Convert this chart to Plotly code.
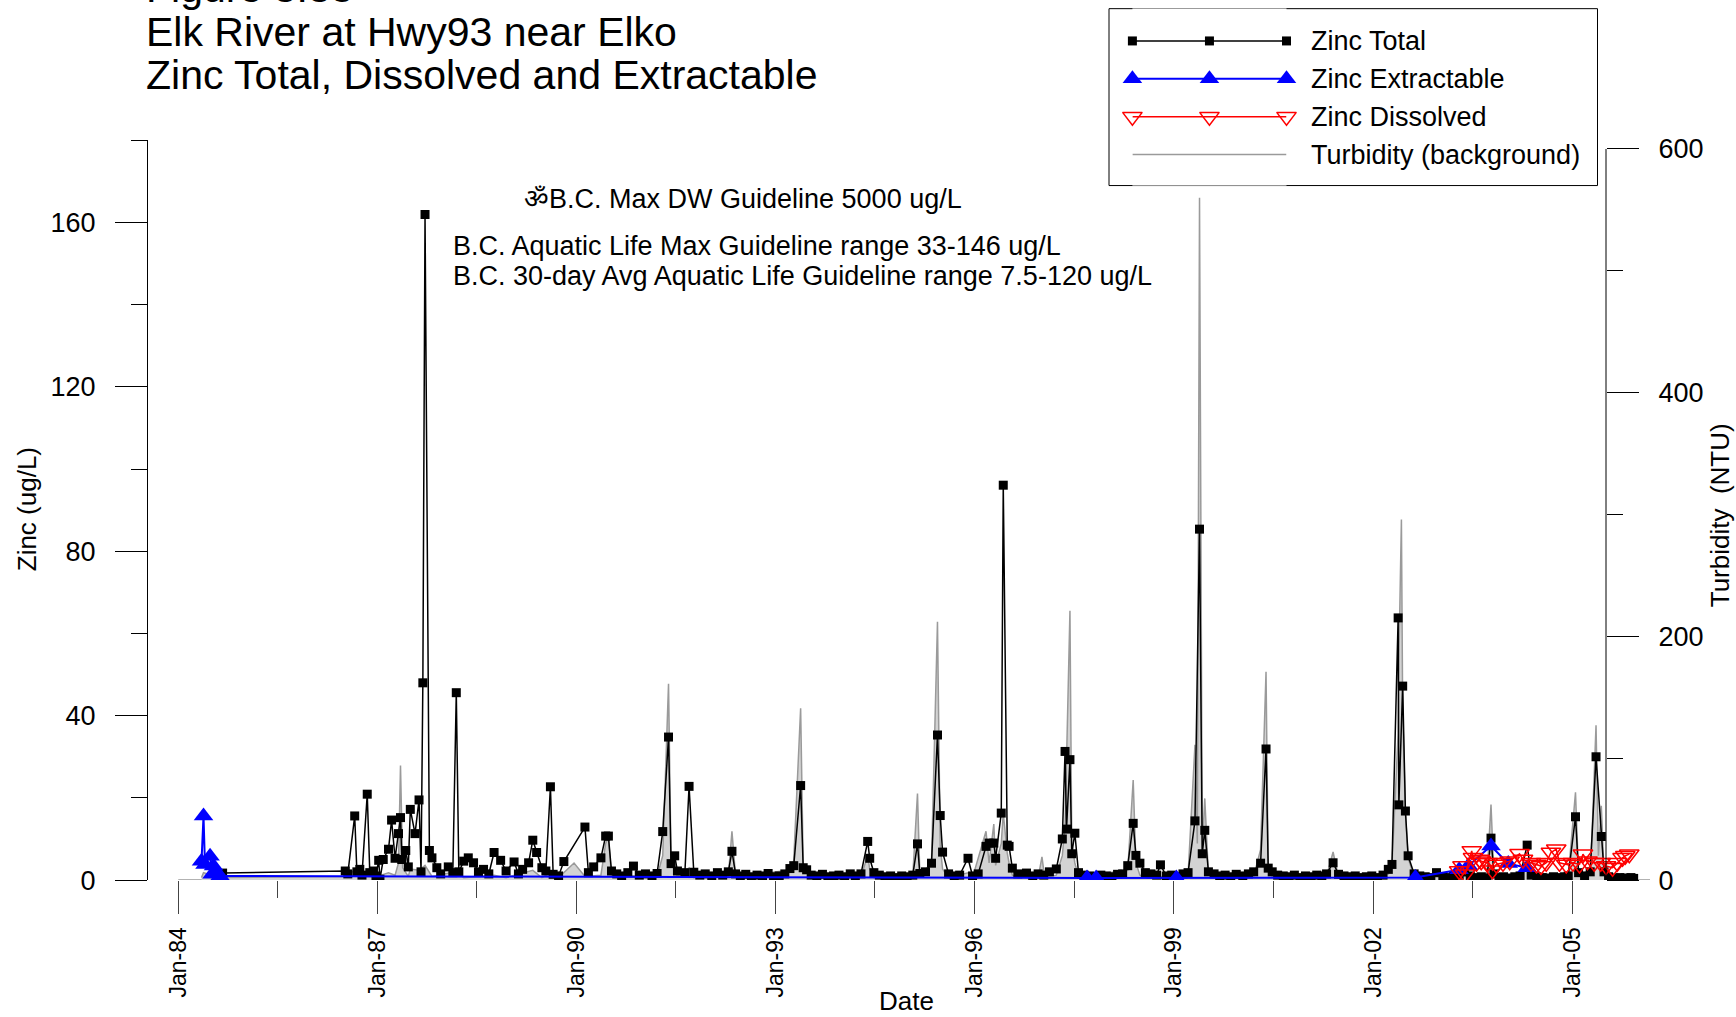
import plotly.graph_objects as go

W, H = 1736, 1017
FONT = "Arial, Liberation Sans, sans-serif"

# ---- values ----
# Zinc Total (ug/L), one sample per date
zn_total_dates = [
    "1984-09-01",
    "1986-07-08", "1986-07-22", "1986-08-29", "1986-09-10", "1986-09-26", "1986-10-08", "1986-11-06",
    "1986-11-20", "1986-12-10", "1986-12-24",
    "1987-01-08", "1987-01-15", "1987-02-02", "1987-03-03", "1987-03-20", "1987-04-08", "1987-04-27",
    "1987-05-08", "1987-05-15", "1987-06-06", "1987-06-20", "1987-07-01", "1987-07-27", "1987-08-18",
    "1987-08-29", "1987-09-08", "1987-09-20", "1987-10-14", "1987-10-28", "1987-11-24", "1987-12-15",
    "1988-01-26", "1988-02-20", "1988-03-10", "1988-03-24", "1988-04-20", "1988-05-15", "1988-06-13",
    "1988-07-10", "1988-08-07", "1988-09-05", "1988-10-04", "1988-11-09", "1988-12-09",
    "1989-01-22", "1989-02-15", "1989-03-10", "1989-04-12", "1989-05-05", "1989-05-26", "1989-06-24",
    "1989-07-16", "1989-08-10", "1989-08-25", "1989-09-24", "1989-10-23",
    "1990-02-16", "1990-03-07", "1990-04-05", "1990-05-15", "1990-06-10", "1990-06-25", "1990-07-12",
    "1990-08-10", "1990-09-06", "1990-10-10", "1990-11-10", "1990-12-12",
    "1991-01-15", "1991-02-20", "1991-03-20", "1991-04-20", "1991-05-22", "1991-06-05", "1991-06-25",
    "1991-07-10", "1991-08-20", "1991-09-12", "1991-10-08", "1991-11-10", "1991-12-10",
    "1992-01-15", "1992-02-15", "1992-03-15", "1992-04-15", "1992-05-05", "1992-05-25", "1992-06-20",
    "1992-07-20", "1992-08-20", "1992-09-20", "1992-10-20", "1992-11-20", "1992-12-20",
    "1993-01-20", "1993-02-20", "1993-03-20", "1993-04-10", "1993-05-18", "1993-06-01", "1993-06-20",
    "1993-07-15", "1993-08-15", "1993-09-15", "1993-10-15", "1993-11-15", "1993-12-15",
    "1994-01-15", "1994-02-15", "1994-03-15", "1994-04-15", "1994-05-22", "1994-06-02", "1994-06-25",
    "1994-07-25", "1994-08-25", "1994-09-25", "1994-10-25", "1994-11-25", "1994-12-25",
    "1995-01-25", "1995-02-20", "1995-03-05", "1995-04-05", "1995-05-08", "1995-06-10", "1995-06-25",
    "1995-07-08", "1995-08-10", "1995-09-10", "1995-10-10", "1995-11-25", "1995-12-20",
    "1996-01-20", "1996-03-03", "1996-03-20", "1996-04-15", "1996-04-25", "1996-05-26", "1996-06-06",
    "1996-06-28", "1996-07-08", "1996-07-26", "1996-08-25", "1996-10-12", "1996-11-15", "1996-12-15",
    "1997-01-15", "1997-02-15", "1997-03-25", "1997-04-27", "1997-05-12", "1997-05-20", "1997-06-08",
    "1997-06-18", "1997-07-05", "1997-07-25", "1997-08-25", "1997-09-25", "1997-10-25", "1997-11-25",
    "1997-12-25",
    "1998-01-25", "1998-02-25", "1998-03-25", "1998-04-22", "1998-05-22", "1998-06-06", "1998-06-28",
    "1998-07-28", "1998-08-28", "1998-09-28", "1998-10-19", "1998-11-20", "1998-12-20",
    "1999-01-20", "1999-02-20", "1999-03-20", "1999-04-27", "1999-05-22", "1999-06-06", "1999-06-20",
    "1999-07-10", "1999-08-10", "1999-09-10", "1999-10-10", "1999-11-10", "1999-12-10",
    "2000-01-15", "2000-02-15", "2000-03-15", "2000-04-22", "2000-05-22", "2000-06-03", "2000-06-25",
    "2000-07-25", "2000-08-25", "2000-09-25", "2000-10-25", "2000-11-25", "2000-12-25",
    "2001-01-25", "2001-02-25", "2001-03-25", "2001-04-20", "2001-05-26", "2001-06-25", "2001-07-25",
    "2001-08-25", "2001-09-25", "2001-10-25", "2001-11-25", "2001-12-25",
    "2002-01-25", "2002-02-25", "2002-03-26", "2002-04-15", "2002-05-19", "2002-05-23", "2002-06-13",
    "2002-06-28", "2002-07-13", "2002-08-15", "2002-09-15", "2002-10-15", "2002-11-15", "2002-12-16",
    "2003-01-20", "2003-02-20", "2003-03-20", "2003-04-20", "2003-05-20", "2003-06-20", "2003-07-20",
    "2003-08-20", "2003-09-20", "2003-10-12", "2003-10-28", "2003-11-25", "2003-12-20",
    "2004-01-20", "2004-02-20", "2004-03-20", "2004-04-28", "2004-05-20", "2004-06-20", "2004-07-20",
    "2004-08-20", "2004-09-20", "2004-10-20", "2004-11-20", "2004-12-10",
    "2005-01-19", "2005-02-05", "2005-03-10", "2005-04-10", "2005-05-12", "2005-06-10", "2005-06-25",
    "2005-07-20", "2005-08-20", "2005-09-20", "2005-10-20", "2005-11-20", "2005-12-05",
]
zn_total = [
    1.7,
    2.2, 1.5, 15.6, 2.0, 2.6, 1.2, 20.9,
    1.8, 2.2, 1.0,
    4.8, 0.2, 5.0, 7.5, 14.6, 5.3, 11.3,
    15.2, 5.0, 7.2, 3.2, 17.2, 11.3, 19.5,
    2.0, 48.0, 162.0, 7.2, 5.4, 3.0, 1.5,
    3.2, 1.8, 45.6, 2.0, 4.6, 5.4, 4.2,
    2.0, 2.6, 1.5, 6.7, 4.8, 2.2,
    4.4, 1.5, 2.6, 4.2, 9.7, 6.7, 3.0,
    2.2, 22.7, 1.4, 1.0, 4.5,
    12.9, 1.8, 3.2, 5.4, 10.7, 10.7, 2.2,
    1.5, 1.0, 1.8, 3.4, 1.2,
    1.5, 1.0, 1.6, 11.8, 34.8, 4.0, 5.9,
    2.2, 1.8, 22.8, 1.9, 1.2, 1.5,
    1.0, 1.8, 1.2, 2.0, 7.0, 1.5, 1.0,
    1.4, 0.8, 1.2, 1.0, 1.6, 0.8,
    1.0, 1.5, 2.8, 3.5, 23.0, 3.0, 2.5,
    1.2, 1.0, 1.4, 0.8, 1.0, 1.2,
    0.8, 1.5, 1.0, 1.5, 9.4, 5.3, 1.8,
    1.2, 0.8, 1.0, 0.6, 1.0, 0.8,
    1.2, 8.8, 1.6, 2.0, 4.1, 35.3, 15.7,
    6.8, 1.5, 1.0, 1.2, 5.3, 1.0,
    1.5, 8.2, 9.0, 9.0, 5.3, 16.3, 96.1,
    8.5, 8.2, 2.9, 1.5, 1.7, 1.0, 1.5,
    1.2, 2.0, 2.7, 10.0, 31.3, 12.4, 29.3,
    6.4, 11.4, 1.8, 1.2, 1.0, 0.8, 1.2,
    1.0,
    0.8, 1.4, 1.5, 3.5, 13.8, 6.0, 4.1,
    1.8, 1.5, 1.2, 3.7, 1.0, 1.2,
    0.8, 1.5, 1.8, 14.4, 85.4, 6.4, 12.1,
    2.0, 1.5, 1.0, 1.2, 0.8, 1.4,
    1.0, 1.5, 2.0, 4.1, 31.9, 2.9, 2.0,
    1.2, 1.0, 0.8, 1.2, 0.6, 1.0,
    0.8, 1.2, 1.0, 1.5, 4.2, 1.4, 1.0,
    0.8, 1.0, 0.6, 0.8, 1.0,
    0.6, 1.2, 2.6, 3.8, 63.8, 18.3, 47.2,
    16.8, 5.9, 1.5, 1.0, 0.8, 0.6, 1.8,
    0.8, 0.6, 1.0, 1.2, 2.0, 1.0, 0.6,
    0.8, 0.5, 10.2, 1.5, 0.6, 0.8,
    0.5, 0.8, 1.0, 8.5, 1.2, 0.8, 0.6,
    0.5, 0.8, 0.6, 0.8, 1.0,
    15.4, 1.8, 1.0, 2.0, 30.0, 10.6, 2.0,
    0.8, 0.5, 0.6, 0.5, 0.6, 0.4,
]

# Zinc Extractable (ug/L)
zn_extr_dates = [
    "1984-05-08", "1984-05-19", "1984-05-27", "1984-06-24", "1984-07-05", "1984-07-13", "1984-07-31",
    "1984-08-18", "1997-09-10", "1997-10-30", "1999-01-15", "2002-08-22", "2003-04-20", "2003-06-10",
    "2003-10-12", "2004-01-15", "2004-04-28",
]
zn_extr = [4.6, 15.6, 3.8, 5.8, 1.4, 3.4, 1.8, 1.0, 0.5, 0.5, 0.5, 0.6, 2.5, 3.5, 8.3, 4.0, 3.0]

# Zinc Dissolved (ug/L)
zn_diss_dates = [
    "2003-04-20", "2003-05-08", "2003-05-23", "2003-06-28", "2003-07-05", "2003-07-24", "2003-08-11",
    "2003-08-19", "2003-09-24", "2003-10-20", "2003-11-10", "2003-12-17", "2004-01-23", "2004-03-17",
    "2004-04-05", "2004-05-19", "2004-06-18", "2004-07-13", "2004-08-11", "2004-09-06", "2004-10-05",
    "2004-10-23", "2004-11-29", "2005-01-05", "2005-02-10", "2005-03-01", "2005-03-26", "2005-05-02",
    "2005-06-07", "2005-07-06", "2005-08-11", "2005-09-06", "2005-10-05", "2005-10-20", "2005-11-11",
]
zn_diss = [
    2.2, 3.4, 1.4, 7.1, 5.4, 4.2, 5.0,
    4.6, 4.2, 2.4, 3.8, 4.2, 4.6, 6.4,
    5.0, 4.2, 3.8, 3.4, 4.2, 6.7, 7.5,
    4.2, 3.8, 4.2, 3.8, 6.3, 4.6, 4.2,
    4.2, 3.4, 3.0, 4.2, 5.4, 5.9, 6.3,
]

# Turbidity (NTU), right axis
turb_dates = [
    "1984-05-08", "1984-05-19", "1984-08-18",
    "1986-07-08", "1986-08-29", "1986-09-26", "1986-11-06", "1986-12-10",
    "1987-03-03", "1987-04-08", "1987-04-27", "1987-05-08", "1987-05-20", "1987-06-20", "1987-07-01",
    "1987-08-18", "1987-09-20", "1987-10-28",
    "1988-03-10", "1988-04-20", "1988-10-04", "1988-12-09",
    "1989-05-05", "1989-06-24", "1989-08-10", "1989-09-24", "1989-12-18", "1990-01-15", "1990-02-16",
    "1990-05-15", "1990-06-10", "1990-06-25", "1990-07-12",
    "1991-03-20", "1991-04-20", "1991-05-22", "1991-06-05", "1991-07-10", "1991-09-12", "1991-10-08",
    "1992-04-15", "1992-05-05", "1992-05-25",
    "1993-03-20", "1993-04-10", "1993-05-18", "1993-06-01", "1993-07-15",
    "1994-04-15", "1994-05-22", "1994-06-02", "1994-06-25",
    "1995-01-25", "1995-02-20", "1995-03-05", "1995-05-08", "1995-06-10", "1995-06-25", "1995-07-08",
    "1995-08-10", "1995-11-25", "1995-12-20",
    "1996-03-03", "1996-03-20", "1996-04-15", "1996-04-25", "1996-05-26", "1996-06-06", "1996-06-28",
    "1996-07-08", "1996-07-26", "1996-08-25", "1996-12-15", "1997-01-05", "1997-01-20",
    "1997-03-25", "1997-04-27", "1997-05-12", "1997-06-08", "1997-06-18", "1997-07-05", "1997-07-25",
    "1998-04-22", "1998-05-22", "1998-06-06", "1998-06-28", "1998-07-28",
    "1999-03-20", "1999-04-27", "1999-05-10", "1999-05-22", "1999-06-06", "1999-06-20", "1999-07-10",
    "2000-03-15", "2000-04-22", "2000-05-22", "2000-06-03", "2000-06-25",
    "2001-04-20", "2001-05-26", "2001-06-25",
    "2002-03-26", "2002-04-15", "2002-05-19", "2002-05-23", "2002-06-06", "2002-06-13", "2002-06-28",
    "2002-07-13", "2002-08-15",
    "2003-09-20", "2003-10-12", "2003-10-28",
    "2004-03-20", "2004-04-28", "2004-05-20",
    "2004-12-10", "2005-01-19", "2005-02-05", "2005-04-10", "2005-04-20", "2005-05-12", "2005-05-25",
    "2005-06-10", "2005-06-25", "2005-12-05",
]
turbidity = [
    2, 6, 2,
    3, 8, 2, 7, 2,
    6, 4, 14, 94, 10, 3, 9,
    8, 12, 3,
    7, 2, 4, 2,
    8, 2, 6, 2, 14, 9, 3,
    4, 30, 35, 4,
    3, 20, 161, 14, 3, 10, 2,
    3, 40, 3,
    8, 16, 141, 12, 2,
    3, 20, 9, 2,
    3, 71, 4, 14, 212, 28, 9,
    2, 6, 2,
    40, 14, 46, 12, 30, 55, 22,
    14, 4, 2, 2, 19, 2,
    4, 20, 45, 221, 30, 14, 3,
    8, 82, 14, 4, 2,
    4, 111, 30, 560, 25, 67, 4,
    3, 25, 171, 10, 3,
    3, 23, 2,
    5, 12, 120, 180, 296, 140, 55,
    18, 3,
    3, 62, 4,
    3, 10, 2,
    3, 72, 4, 8, 38, 127, 20,
    61, 5, 2,
]

title_lines = ["Figure 3.38", "Elk River at Hwy93 near Elko", "Zinc Total, Dissolved and Extractable"]
guideline_lines = [
    "\u0950B.C. Max DW Guideline 5000 ug/L",
    "B.C. Aquatic Life Max Guideline range 33-146 ug/L",
    "B.C. 30-day Avg Aquatic Life Guideline range 7.5-120 ug/L",
]
legend_names = ["Zinc Total", "Zinc Extractable", "Zinc Dissolved", "Turbidity (background)"]

X_START, X_END = "1983-07-13", "2006-03-05"


def px_x(px):
    return px / W


# rows are pixel rows measured on the reference; the captured page came out a
# little squashed vertically, so the rows are stretched slightly to land there
def px_y(px):
    return 1 - (1.0233 * px - 7.0) / H


fig = go.Figure()

# turbidity sits on the base y axis so it is drawn behind the zinc traces
fig.add_trace(go.Scatter(x=turb_dates, y=turbidity, xaxis="x", yaxis="y", mode="lines",
                         line=dict(color="#9a9a9a", width=1.5), fill="tozeroy", fillcolor="#d3d3d3",
                         hoverinfo="skip"))

total_style = dict(line=dict(color="black", width=1.5), marker=dict(symbol="square", size=9, color="black"))
extr_style = dict(line=dict(color="#0000ff", width=2), marker=dict(symbol="triangle-up", size=17, color="#0000ff"))
diss_style = dict(line=dict(color="#ff0000", width=1.5),
                  marker=dict(symbol="triangle-down-open", size=17, color="#ff0000",
                              line=dict(width=1.5, color="#ff0000")))

fig.add_trace(go.Scatter(x=zn_total_dates, y=zn_total, xaxis="x", yaxis="y2", mode="lines+markers", **total_style))
fig.add_trace(go.Scatter(x=zn_extr_dates, y=zn_extr, xaxis="x", yaxis="y2", mode="lines+markers", **extr_style))
fig.add_trace(go.Scatter(x=zn_diss_dates, y=zn_diss, xaxis="x", yaxis="y2", mode="lines+markers", **diss_style))

# hand-made legend: keys drawn on their own small axes
key_x = [0, 1, 2]
key_styles = [total_style, extr_style, diss_style, dict(line=dict(color="#9a9a9a", width=1.5))]
for row, style in enumerate(key_styles):
    mode = "lines+markers" if "marker" in style else "lines"
    fig.add_trace(go.Scatter(x=key_x, y=[row] * 3, xaxis="x3", yaxis="y3", mode=mode,
                             cliponaxis=False, hoverinfo="skip", **style))

annotations = []
for line, cy in zip(title_lines, [-11, 33, 76]):
    annotations.append(dict(text=line, x=px_x(144), y=px_y(cy), xref="paper", yref="paper",
                            xanchor="left", yanchor="middle", showarrow=False, font=dict(size=41)))

for line, (lx, ly) in zip(guideline_lines, [(522, 199), (451, 246), (451, 276.5)]):
    annotations.append(dict(text=line, x=px_x(lx), y=px_y(ly), xref="paper", yref="paper",
                            xanchor="left", yanchor="middle", showarrow=False, font=dict(size=27)))

for row, name in enumerate(legend_names):
    annotations.append(dict(text=name, x=px_x(1309), y=row, xref="paper", yref="y3",
                            xanchor="left", yanchor="middle", showarrow=False, font=dict(size=27)))

annotations += [
    dict(text="Zinc (ug/L)", x=px_x(27), y=px_y(509), xref="paper", yref="paper", textangle=-90,
         xanchor="center", yanchor="middle", showarrow=False, font=dict(size=26)),
    dict(text="Turbidity  (NTU)", x=px_x(1720), y=px_y(515), xref="paper", yref="paper", textangle=-90,
         xanchor="center", yanchor="middle", showarrow=False, font=dict(size=26)),
    dict(text="Date", x=px_x(906), y=px_y(1000), xref="paper", yref="paper",
         xanchor="center", yanchor="middle", showarrow=False, font=dict(size=26)),
]

shapes = [
    # bottom axis line starts at Jan-84
    dict(type="line", xref="x", yref="y", x0="1984-01-01", x1=X_END, y0=0, y1=0,
         line=dict(color="#555555", width=1), layer="below"),
    # right axis line only up to 600
    dict(type="line", xref="paper", yref="y", x0=px_x(1606), x1=px_x(1606), y0=0, y1=600,
         line=dict(color="black", width=1)),
    # legend frame
    dict(type="rect", xref="paper", yref="paper", x0=px_x(1109), x1=px_x(1597.5), y0=px_y(186), y1=px_y(9.5),
         line=dict(color="black", width=1), fillcolor="white", layer="below"),
]

fig.update_layout(
    width=W, height=H, autosize=False, margin=dict(l=0, r=0, t=0, b=0),
    paper_bgcolor="white", plot_bgcolor="white", showlegend=False,
    font=dict(family=FONT, color="black"),
    xaxis=dict(type="date", domain=[px_x(147), px_x(1650)], range=[X_START, X_END], anchor="y",
               showline=False, showgrid=False, zeroline=False,
               ticks="outside", ticklen=33, tickwidth=1, tickcolor="#444444",
               tick0="1984-01-01", dtick="M36", tickformat="%b-%y", tickangle=-90,
               tickfont=dict(size=23), ticklabelstandoff=4,
               minor=dict(ticks="outside", ticklen=17, tickcolor="#444444", dtick="M18",
                          tick0="1984-01-01", showgrid=False)),
    yaxis=dict(domain=[px_y(879), px_y(141)], range=[0, 607], side="right", anchor="free",
               position=px_x(1606), showline=False, showgrid=False, zeroline=False,
               ticks="outside", ticklen=32, tickcolor="black", tick0=0, dtick=200,
               tickfont=dict(size=27), ticklabelstandoff=14,
               minor=dict(ticks="outside", ticklen=16, dtick=100, tickcolor="black", showgrid=False)),
    yaxis2=dict(overlaying="y", side="left", anchor="free", position=px_x(147), range=[0, 180],
                showline=True, linecolor="black", linewidth=1, showgrid=False, zeroline=False,
                ticks="outside", ticklen=32, tickcolor="black", dtick=40,
                tickfont=dict(size=27), ticklabelstandoff=14,
                minor=dict(ticks="outside", ticklen=16, dtick=20, tickcolor="black", showgrid=False)),
    xaxis3=dict(domain=[px_x(1132.4), px_x(1286.5)], range=[0, 2], visible=False, anchor="y3"),
    yaxis3=dict(domain=[px_y(186), px_y(9.3)], range=[3.82, -0.858], visible=False, anchor="x3"),
    annotations=annotations,
    shapes=shapes,
)

fig.write_html("out.html", config={"displayModeBar": False, "responsive": False},
               post_script="document.body.style.margin='0px';")
